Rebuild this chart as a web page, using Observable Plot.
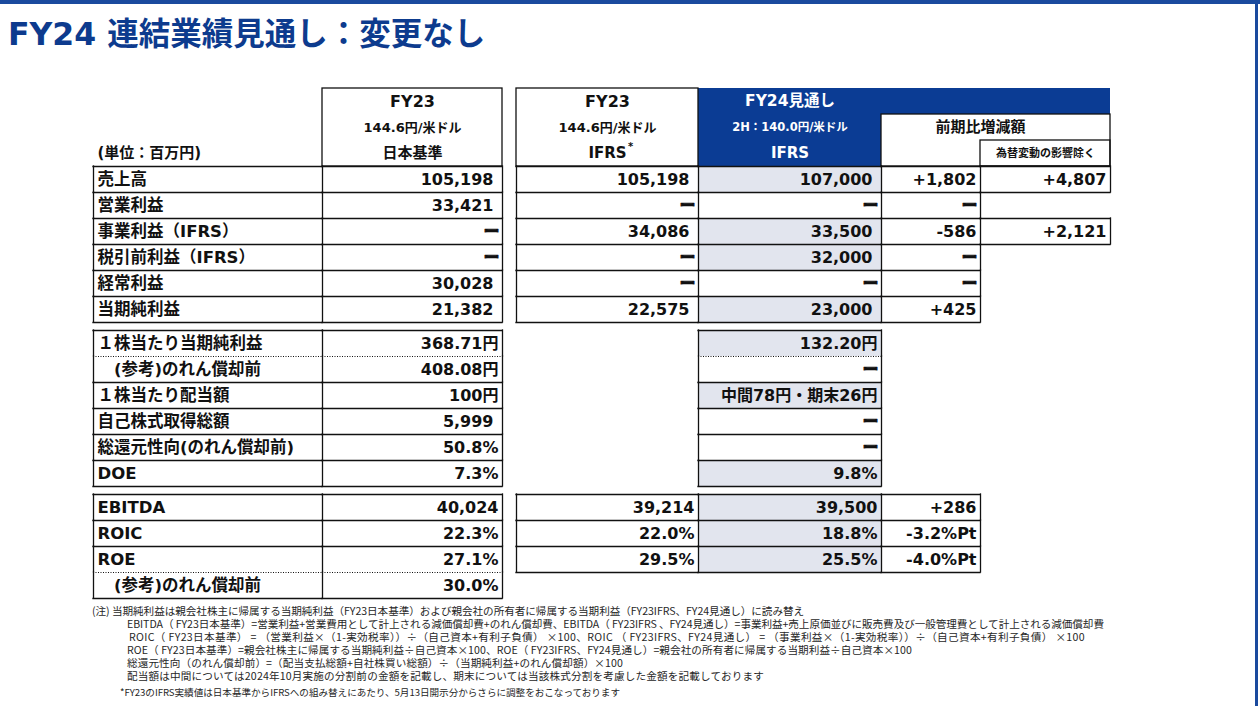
<!DOCTYPE html>
<html lang="ja"><head><meta charset="utf-8">
<script src="https://cdn.jsdelivr.net/npm/d3@7"></script>
<script src="https://cdn.jsdelivr.net/npm/@observablehq/plot@0.6"></script>
<style>
html,body{margin:0;padding:0;background:#fff;}
body{width:1260px;height:706px;overflow:hidden;position:relative;font-family:"DejaVu Sans","Noto Sans CJK JP",sans-serif;}
.bar{position:absolute;background:#1a4a9e;}
#title{position:absolute;left:8px;top:15px;font-size:31.5px;line-height:38px;font-weight:700;color:#0d3b8e;white-space:nowrap;}
#chart{position:absolute;left:0;top:80px;}
.note{position:absolute;font-family:"Noto Sans CJK JP",sans-serif;font-size:10.6px;line-height:13px;color:#262626;white-space:nowrap;}
</style></head><body>
<div class="bar" style="left:0;top:0;width:1260px;height:4px"></div>
<div class="bar" style="left:1255px;top:0;width:3px;height:706px"></div>
<div id="title"></div>
<div id="chart"></div>
<div id="notes"></div>
<script>
// ---------- data ----------
const titleText = "FY24 連結業績見通し：変更なし";
const unitLabel = "(単位：百万円)";
const headerYear = ["FY23", "FY23", "FY24見通し"];
const headerRate = ["144.6円/米ドル", "144.6円/米ドル", "2H：140.0円/米ドル"];
const headerBasis = ["日本基準", "IFRS", "IFRS"];
const headerDiff = "前期比増減額";
const headerDiffEx = "為替変動の影響除く";
const ifrsMark = "*";

const DASH = "ー";
const rowLabels1 = ["売上高", "営業利益", "事業利益（IFRS）", "税引前利益（IFRS）", "経常利益", "当期純利益"];
const fy23jp1   = ["105,198", "33,421", DASH, DASH, "30,028", "21,382"];
const fy23ifrs1 = ["105,198", DASH, "34,086", DASH, DASH, "22,575"];
const fy24_1    = ["107,000", DASH, "33,500", "32,000", DASH, "23,000"];
const diff1     = ["+1,802", DASH, "-586", DASH, DASH, "+425"];
const diffEx1   = ["+4,807", null, "+2,121", null, null, null];

const rowLabels2 = ["１株当たり当期純利益", "　(参考)のれん償却前", "１株当たり配当額", "自己株式取得総額", "総還元性向(のれん償却前)", "DOE"];
const fy23jp2 = ["368.71円", "408.08円", "100円", "5,999", "50.8%", "7.3%"];
const fy24_2  = ["132.20円", DASH, "中間78円・期末26円", DASH, DASH, "9.8%"];

const rowLabels3 = ["EBITDA", "ROIC", "ROE", "　(参考)のれん償却前"];
const fy23jp3   = ["40,024", "22.3%", "27.1%", "30.0%"];
const fy23ifrs3 = ["39,214", "22.0%", "29.5%", null];
const fy24_3    = ["39,500", "18.8%", "25.5%", null];
const diff3     = ["+286", "-3.2%Pt", "-4.0%Pt", null];

const notes = [
  "(注) 当期純利益は親会社株主に帰属する当期純利益（FY23日本基準）および親会社の所有者に帰属する当期利益（FY23IFRS、FY24見通し）に読み替え",
  "EBITDA（ FY23日本基準）=営業利益+営業費用として計上される減価償却費+のれん償却費、EBITDA（ FY23IFRS 、FY24見通し）=事業利益+売上原価並びに販売費及び一般管理費として計上される減価償却費",
  "ROIC（ FY23日本基準） = （営業利益×（1-実効税率））÷（自己資本+有利子負債） ×100、ROIC （ FY23IFRS、FY24見通し） = （事業利益×（1-実効税率））÷（自己資本+有利子負債） ×100",
  "ROE（ FY23日本基準）=親会社株主に帰属する当期純利益÷自己資本×100、ROE（ FY23IFRS、FY24見通し）=親会社の所有者に帰属する当期利益÷自己資本×100",
  "総還元性向（のれん償却前）=（配当支払総額+自社株買い総額）÷（当期純利益+のれん償却額）×100",
  "配当額は中間については2024年10月実施の分割前の金額を記載し、期末については当該株式分割を考慮した金額を記載しております",
  "*FY23のIFRS実績値は日本基準からIFRSへの組み替えにあたり、5月13日開示分からさらに調整をおこなっております"
];

// ---------- layout ----------
const columns = ["label", "fy23jp", "gap", "fy23ifrs", "fy24", "diff", "diffEx"];
const colEdgesPx = [93, 322, 502, 516, 698, 881, 980, 1110];
const C = Object.fromEntries(columns.map((c, i) => [c, i]));
const ROW_PX = 26, GAP = 8 / 26, TOP_PX = 8;
const blockStart = [3, 9 + GAP, 15 + 2 * GAP];
const totalRows = 19 + 2 * GAP;
const BLUE = "#0b3c94", GRAY = "#e2e5ee", INK = "#111";

const blocks = [
  {labels: rowLabels1, values: {fy23jp: fy23jp1, fy23ifrs: fy23ifrs1, fy24: fy24_1, diff: diff1, diffEx: diffEx1}, dottedRow: null, pad: true},
  {labels: rowLabels2, values: {fy23jp: fy23jp2, fy24: fy24_2}, dottedRow: 1, pad: true},
  {labels: rowLabels3, values: {fy23jp: fy23jp3, fy23ifrs: fy23ifrs3, fy24: fy24_3, diff: diff3}, dottedRow: 3, pad: false}
];

const cells = [];
blocks.forEach((b, bi) => {
  b.labels.forEach((lab, r) => {
    const top = blockStart[bi] + r;
    cells.push({col: C.label, top, text: lab, kind: "label", block: bi});
    for (const [key, arr] of Object.entries(b.values)) {
      const v = arr[r];
      if (v == null) continue;
      cells.push({col: C[key], top, text: v, kind: v === DASH ? "dash" : "value", key, block: bi,
        pad: b.pad && /^[\d,]+$/.test(v) && v.includes(",")});
    }
  });
});

const k = (a, b) => `${(+a).toFixed(3)}|${(+b).toFixed(3)}`;
const boxed = new Set(cells.map(c => k(c.col, c.top)));
const dottedY = new Set();
blocks.forEach((b, bi) => { if (b.dottedRow != null) dottedY.add((blockStart[bi] + b.dottedRow).toFixed(3)); });

const hMap = new Map(), vMap = new Map();
for (const c of cells) {
  for (const y of [c.top, c.top + 1]) {
    const key = k(y, c.col);
    if (!hMap.has(key)) {
      const dotted = dottedY.has(y.toFixed(3)) && boxed.has(k(c.col, y - 1)) && boxed.has(k(c.col, y));
      hMap.set(key, {y, x1: c.col, x2: c.col + 1, dotted});
    }
  }
  for (const x of [c.col, c.col + 1]) {
    const key = k(x, c.top);
    if (!vMap.has(key)) vMap.set(key, {x, y1: c.top, y2: c.top + 1});
  }
}
const hEdges = [...hMap.values()];
const vEdges = [...vMap.values()];

const grayCells = cells.filter(c => c.key === "fy24" && c.text !== DASH);
const blueFills = [
  {x1: C.fy24, x2: C.fy24 + 1, y1: 0, y2: 3},
  {x1: C.fy24, x2: C.diffEx + 1, y1: 0, y2: 1}
];
const headerBoxes = [
  {x1: C.fy23jp, x2: C.fy23jp + 1, y1: 0, y2: 3},
  {x1: C.fy23ifrs, x2: C.fy23ifrs + 1, y1: 0, y2: 3},
  {x1: C.diff, x2: C.diffEx + 1, y1: 1, y2: 3},
  {x1: C.diffEx, x2: C.diffEx + 1, y1: 2, y2: 3}
];
const headCols = [C.fy23jp, C.fy23ifrs, C.fy24];
const headText = [];
headCols.forEach((col, i) => {
  const color = col === C.fy24 ? "#fff" : INK;
  headText.push({x: col + 0.5, y: 0.5, text: headerYear[i], size: col === C.fy24 ? 15.5 : 16, color});
  headText.push({x: col + 0.5, y: 1.5, text: headerRate[i], size: col === C.fy24 ? 11.5 : 13, color});
  headText.push({x: col + 0.5, y: 2.5, text: headerBasis[i], size: 15, color});
});
headText.push({x: (C.diff + C.diffEx + 1) / 2, y: 1.5, text: headerDiff, size: 15, color: INK});
headText.push({x: C.diffEx + 0.5, y: 2.5, text: headerDiffEx, size: 11, color: INK});

const FONT = "'DejaVu Sans', 'Noto Sans CJK JP', sans-serif";

const chart = Plot.plot({
  width: 1260,
  height: 522,
  margin: 0,
  style: {fontFamily: FONT, background: "transparent"},
  x: {type: "linear", domain: colEdgesPx.map((_, i) => i), range: colEdgesPx, axis: null},
  y: {type: "linear", domain: [0, totalRows], range: [TOP_PX, TOP_PX + totalRows * ROW_PX], axis: null},
  marks: [
    Plot.rect(grayCells, {x1: d => d.col, x2: d => d.col + 1, y1: d => d.top, y2: d => d.top + 1, fill: GRAY}),
    Plot.rect(blueFills, {x1: "x1", x2: "x2", y1: "y1", y2: "y2", fill: BLUE}),
    Plot.rect(headerBoxes, {x1: "x1", x2: "x2", y1: "y1", y2: "y2", fill: "none", stroke: INK, strokeWidth: 1.3}),
    Plot.ruleY(hEdges.filter(d => !d.dotted), {y: "y", x1: "x1", x2: "x2", stroke: INK, strokeWidth: 1.3, strokeLinecap: "square"}),
    Plot.ruleY(hEdges.filter(d => d.dotted), {y: "y", x1: "x1", x2: "x2", stroke: INK, strokeWidth: 1, strokeDasharray: "1,1.5"}),
    Plot.ruleX(vEdges, {x: "x", y1: "y1", y2: "y2", stroke: INK, strokeWidth: 1.3, strokeLinecap: "square"}),
    Plot.text(headText, {x: "x", y: "y", text: "text", fontSize: d => d.size, fill: d => d.color, fontWeight: "bold"}),
    Plot.text([ifrsMark], {x: () => C.fy23ifrs + 0.5, y: () => 2.5, text: d => d, dx: 23, dy: -7, fontSize: 10, fontWeight: "bold", fill: INK}),
    Plot.text([unitLabel], {x: () => C.label, y: () => 2.5, text: d => d, textAnchor: "start", dx: 4, fontSize: 15, fontWeight: "bold", fill: INK}),
    Plot.text(cells.filter(c => c.kind === "label"), {x: d => d.col, y: d => d.top + 0.5, text: "text", textAnchor: "start", dx: 4, fontSize: 16.5, fontWeight: "bold", fill: INK}),
    Plot.text(cells.filter(c => c.kind === "value" && !c.pad), {x: d => d.col + 1, y: d => d.top + 0.5, text: "text", textAnchor: "end", dx: -4, fontSize: 16, fontWeight: "bold", fill: INK}),
    Plot.text(cells.filter(c => c.kind === "value" && c.pad), {x: d => d.col + 1, y: d => d.top + 0.5, text: "text", textAnchor: "end", dx: -9, fontSize: 16, fontWeight: "bold", fill: INK}),
    Plot.text(cells.filter(c => c.kind === "dash"), {x: d => d.col + 1, y: d => d.top + 0.5, text: "text", textAnchor: "end", dx: -3, fontSize: 16, fontWeight: 900, fill: INK, stroke: INK, strokeWidth: 0.6})
  ]
});
document.getElementById("chart").appendChild(chart);
document.getElementById("title").textContent = titleText;

const noteLeft = [92, 127, 129, 127, 127, 127, 120];
const noteTop = [604, 617, 630, 643, 656, 669, 686];
const noteRight = [804, 1104, 1085, 912, 623, 764, 620];
const noteSize = [10.6, 10.6, 10.6, 10.6, 10.6, 10.6, 9.6];
const notesEl = document.getElementById("notes");
notes.forEach((t, i) => {
  const d = document.createElement("div");
  d.className = "note";
  d.style.left = noteLeft[i] + "px";
  d.style.top = noteTop[i] + "px";
  d.style.fontSize = noteSize[i] + "px";
  d.textContent = t;
  notesEl.appendChild(d);
  const w = d.getBoundingClientRect().width;
  const target = noteRight[i] - noteLeft[i];
  d.style.letterSpacing = ((target - w) / t.length).toFixed(3) + "px";
});
</script>
</body></html>
